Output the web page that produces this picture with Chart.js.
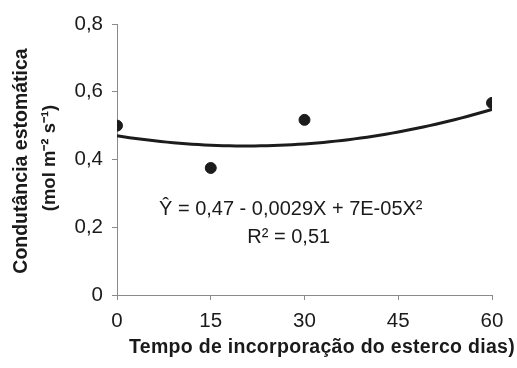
<!DOCTYPE html>
<html>
<head>
<meta charset="utf-8">
<script src="https://cdn.jsdelivr.net/npm/chart.js@4/dist/chart.umd.min.js"></script>
<style>
  html, body { margin: 0; padding: 0; background: #ffffff; }
  #wrap { width: 517px; height: 368px; position: relative; }
</style>
</head>
<body>
<div id="wrap"><canvas id="c" width="517" height="368"></canvas></div>
<script>
// Observed stomatal conductance by days of manure incorporation
const days = [0, 15, 30, 60];
const conductance = [0.50, 0.375, 0.517, 0.567];

// Quadratic fit: Y = a + b*X + c*X^2 (coefficients as printed)
const fitCoefficients = [0.47, -0.0029, 0.00007];
const fitLabel = ['\u0176 = 0,47 - 0,0029X + 7E-05X\u00B2', 'R\u00B2 = 0,51'];

const xTicks = [0, 15, 30, 45, 60];
const yTicks = [0, 0.2, 0.4, 0.6, 0.8];

const xTitle = 'Tempo de incorporação do esterco dias)';
const yTitle = ['Condutância estomática', '(mol m\u207B\u00B2 s\u207B\u00B9)'];

// Trend line sampled along the day axis
const fitX = [];
for (let d = xTicks[0]; d <= xTicks[xTicks.length - 1]; d += 1) fitX.push(d);
const fitPoints = fitX.map(x => ({
  x: x,
  y: fitCoefficients[0] + fitCoefficients[1] * x + fitCoefficients[2] * x * x
}));

const ink = '#1c1c1c';
const textInk = '#1a1a1a';
const axisGrey = '#8a8a8a';
const sans = '"Liberation Sans", Arial, sans-serif';

const annotations = {
  id: 'annotations',
  afterDraw(chart) {
    const ctx = chart.ctx;
    const xs = chart.scales.x, ys = chart.scales.y;
    ctx.save();
    ctx.fillStyle = textInk;
    ctx.textAlign = 'center';
    ctx.textBaseline = 'alphabetic';
    // Regression equation inside the plot
    ctx.font = '20px ' + sans;
    const cx = xs.getPixelForValue(27.8);
    ctx.fillText(fitLabel[0], cx, ys.getPixelForValue(0.236));
    ctx.fillText(fitLabel[1], cx - 2, ys.getPixelForValue(0.154));

    // X axis title
    ctx.font = 'bold 19.5px ' + sans;
    ctx.letterSpacing = '0.3px';
    ctx.textBaseline = 'middle';
    ctx.fillText(xTitle, 322, 348);
    ctx.letterSpacing = '0px';

    // Y axis title, rotated
    ctx.translate(36, 161);
    ctx.rotate(-Math.PI / 2);
    ctx.font = 'bold 19.5px ' + sans;
    ctx.fillText(yTitle[0], 0, -14);
    ctx.font = 'bold 18.5px ' + sans;
    ctx.fillText(yTitle[1], 3, 14);
    ctx.restore();
  }
};

new Chart(document.getElementById('c'), {
  type: 'scatter',
  data: {
    datasets: [
      {
        type: 'line',
        data: fitPoints,
        borderColor: ink,
        borderWidth: 3,
        pointRadius: 0,
        tension: 0,
        fill: false,
        order: 2
      },
      {
        data: days.map((d, i) => ({ x: d, y: conductance[i] })),
        backgroundColor: ink,
        borderColor: ink,
        pointRadius: 5.5,
        pointHoverRadius: 5.5,
        order: 1
      }
    ]
  },
  options: {
    responsive: false,
    animation: false,
    devicePixelRatio: 1,
    layout: { padding: { left: 0, right: 25, top: 24, bottom: 0 } },
    plugins: { legend: { display: false }, tooltip: { enabled: false } },
    scales: {
      x: {
        type: 'linear',
        min: 0, max: 60,
        afterBuildTicks(scale) { scale.ticks = xTicks.map(v => ({ value: v })); },
        afterFit(scale) { scale.height = 73; },
        border: { display: true, color: axisGrey, width: 1 },
        grid: { drawOnChartArea: false, drawTicks: true, tickLength: 5, color: axisGrey },
        ticks: {
          color: textInk,
          padding: 9,
          font: { family: sans, size: 20.5 },
          callback: v => String(v)
        }
      },
      y: {
        min: 0, max: 0.8,
        afterBuildTicks(scale) { scale.ticks = yTicks.map(v => ({ value: v })); },
        afterFit(scale) { scale.width = 117; },
        border: { display: true, color: axisGrey, width: 1 },
        grid: { drawOnChartArea: false, drawTicks: true, tickLength: 5, color: axisGrey },
        ticks: {
          color: textInk,
          padding: 9,
          font: { family: sans, size: 20.5 },
          callback: v => (v === 0 ? '0' : v.toFixed(1).replace('.', ','))
        }
      }
    }
  },
  plugins: [annotations]
});
</script>
</body>
</html>
